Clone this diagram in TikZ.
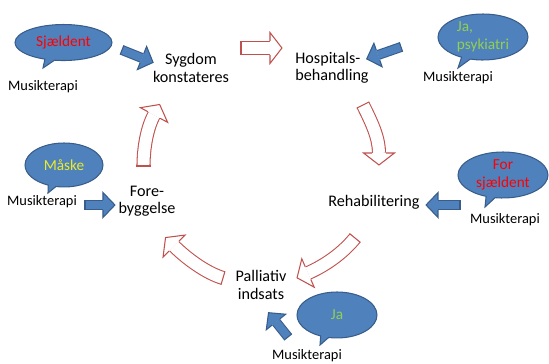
\documentclass[tikz,border=0pt]{standalone}
\usepackage{fontspec}
\setmainfont{Carlito}
\usetikzlibrary{shapes.callouts,decorations.markings}
\definecolor{bluefill}{RGB}{79,129,189}
\definecolor{bluedark}{RGB}{56,93,138}
\definecolor{arrowred}{RGB}{192,80,77}
\definecolor{txtgreen}{RGB}{146,208,80}
\definecolor{txtyellow}{RGB}{235,235,40}

\begin{document}
\begin{tikzpicture}[x=0.02cm, y=-0.02cm]
	\newcommand\ArrowHead[5]{%
		\fill[#2] (0pt,-#4) -- (#5,0pt) -- (0pt,#4) -- cycle;
		\draw[#1, line width=.6pt, line join=miter] (0pt,-#3) -- (0pt,-#4) -- (#5,0pt) -- (0pt,#4) -- (0pt,#3);}
	\tikzset{
		stage/.style={font=\fontsize{9.2}{9.8}\selectfont, align=center, inner sep=0pt},
		mtlabel/.style={font=\fontsize{8.2}{9}\selectfont, inner sep=0pt},
		bubble/.style={ellipse callout, draw=bluedark, fill=bluefill, line width=.6pt, inner sep=0pt,
			callout pointer arc=12, font=\fontsize{8.7}{10}\selectfont, align=center},
		redarrow/.style={draw=arrowred, line width=.6pt, double=white, double distance=6.8pt,
			postaction={decorate, decoration={markings,
				mark=at position 0 with {\draw[arrowred, line width=.6pt] (0pt,-4pt) -- (0pt,4pt);},
				mark=at position 1 with {\ArrowHead{arrowred}{white}{4pt}{8.8pt}{6.8pt}}}}},
		bluearrow/.style={draw=bluedark, line width=.6pt, double=bluefill, double distance=4.5pt,
			postaction={decorate, decoration={markings,
				mark=at position 0 with {\draw[bluedark, line width=.6pt] (0pt,-2.85pt) -- (0pt,2.85pt);},
				mark=at position 1 with {\ArrowHead{bluedark}{bluefill}{2.85pt}{7.1pt}{6.8pt}}}}}
	}
	\useasboundingbox (0,0) rectangle (549,363);

	\node[stage] (syg) at (191,68) {Sygdom\\konstateres};
	\node[stage, align=left] (hosp) at (332,68) {Hospitals-\\behandling};
	\node[stage] (rehab) at (374,202) {Rehabilitering};
	\node[stage] (pall) at (261,285) {Palliativ\\indsats};
	\node[stage] (fore) at (147,201) {Fore-\\byggelse};

	\node[bubble, minimum width=1.94cm, minimum height=0.72cm, text=red,
		callout absolute pointer={(43,68)}] (b1) at (63.5,42.5) {Sj\ae ldent};
	\node[bubble, minimum width=1.8cm, minimum height=0.92cm, text=txtgreen, align=left,
		callout absolute pointer={(458,68)}] (b2) at (483,37) {Ja,\\psykiatri};
	\node[bubble, minimum width=1.56cm, minimum height=0.88cm, text=txtyellow,
		callout absolute pointer={(48,193)}] (b3) at (64,165) {M\aa ske};
	\node[bubble, minimum width=1.8cm, minimum height=0.92cm, text=red,
		callout absolute pointer={(485,207)}] (b4) at (503,175) {For\\sj\ae ldent};
	\node[bubble, minimum width=1.6cm, minimum height=0.92cm, text=txtgreen,
		callout absolute pointer={(320,345)}] (b5) at (337,315) {Ja};

	\node[mtlabel] (mt1) at (43,87) {Musikterapi};
	\node[mtlabel] (mt2) at (458,78) {Musikterapi};
	\node[mtlabel] (mt3) at (42,202) {Musikterapi};
	\node[mtlabel] (mt4) at (505,220) {Musikterapi};
	\node[mtlabel] (mt5) at (307,356) {Musikterapi};

	\draw[redarrow] ([shift={(50,-20)}]syg.center) -- ([shift={(-62,-20)}]hosp.center);
	\draw[redarrow] ([shift={(31,37)}]hosp.center) .. controls +(9,18) and +(0,-15) .. ([shift={(5,-49)}]rehab.center);
	\draw[redarrow] ([shift={(-19,36)}]rehab.center) .. controls +(-13,16) and +(16,-7) .. ([shift={(47,-12)}]pall.center);
	\draw[redarrow] ([shift={(-38,-7)}]pall.center) .. controls +(-17,-5) and +(12,12) .. ([shift={(27,45)}]fore.center);
	\draw[redarrow] ([shift={(-3.5,-35)}]fore.center) .. controls +(0,-18) and +(-7,13) .. ([shift={(-37,47)}]syg.center);

	\draw[bluearrow] ([shift={(58.5,7.5)}]b1.center) -- ([shift={(-49,-10)}]syg.center);
	\draw[bluearrow] ([shift={(-82,10)}]b2.center) -- ([shift={(46,-13)}]hosp.center);
	\draw[bluearrow] ([shift={(43,3)}]mt3.center) -- ([shift={(-44,4)}]fore.center);
	\draw[bluearrow] ([shift={(-43,30)}]b4.center) -- ([shift={(64,3)}]rehab.center);
	\draw[bluearrow] ([shift={(-19,-19)}]mt5.center) -- ([shift={(15,37)}]pall.center);
\end{tikzpicture}
\end{document}
